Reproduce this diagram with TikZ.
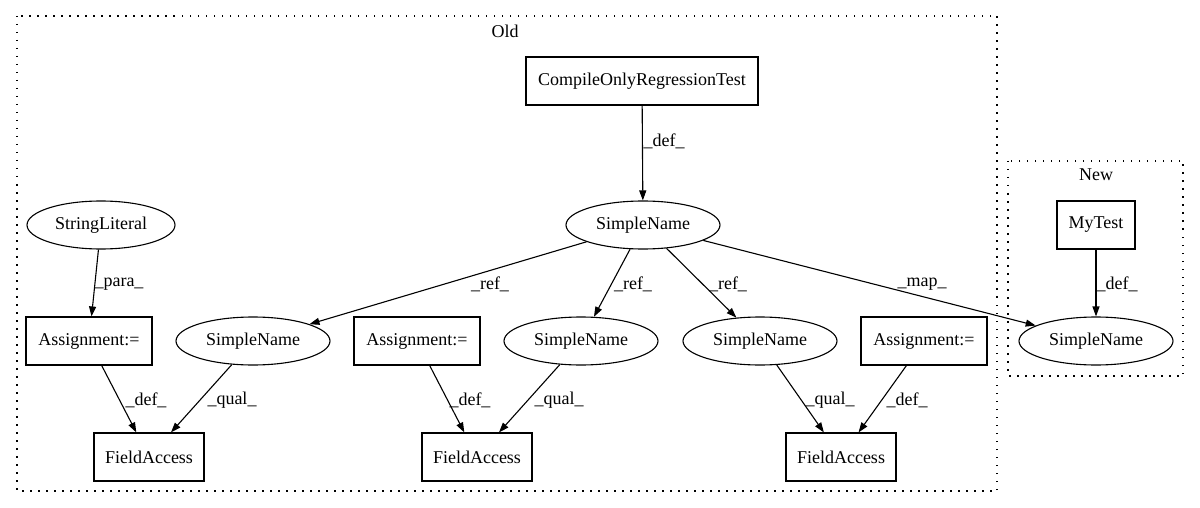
\documentclass[tikz,border=0pt]{standalone}
\usepackage{fontspec}
\setmainfont{Liberation Serif}
\usetikzlibrary{arrows.meta,shapes.geometric}
\tikzset{
  base/.style={draw, line width=1.1pt, inner sep=0pt, font=\fontsize{18}{21}\selectfont},
  boxnode/.style={base, rectangle, minimum height=48pt},
  ellnode/.style={base, ellipse, minimum width=154pt, minimum height=48pt},
  edge/.style={line width=1.1pt, -{Triangle[length=10pt,width=7pt]}},
  lbl/.style={inner sep=0pt, font=\fontsize{18}{21}\selectfont},
  cluster/.style={line width=1.3pt, dash pattern=on 1.5pt off 6.5pt},
}
\begin{document}
\begin{tikzpicture}[x=1pt,y=-1pt]
\useasboundingbox (0,0) rectangle (1200,508);
% clusters
\draw[cluster] (17,16) rectangle (997,491);
\node[lbl] (oldlbl) at (505,31) {Old};
\draw[cluster] (1008,161) rectangle (1183,376);
\node[lbl] (newlbl) at (1096,175) {New};
% nodes
\node[boxnode, minimum width=232pt] (cort) at (642,81) {CompileOnlyRegressionTest};
\node[ellnode] (sn0) at (643,225) {SimpleName};
\node[ellnode, minimum width=148pt] (sl) at (101,225) {StringLiteral};
\node[boxnode, minimum width=126pt] (as1) at (89,341) {Assignment:=};
\node[ellnode] (sn1) at (253,341) {SimpleName};
\node[boxnode, minimum width=126pt] (as2) at (417,341) {Assignment:=};
\node[ellnode] (sn2) at (581,341) {SimpleName};
\node[ellnode] (sn3) at (760,341) {SimpleName};
\node[boxnode, minimum width=126pt] (as3) at (924,341) {Assignment:=};
\node[boxnode, minimum width=110pt] (fa1) at (149,457) {FieldAccess};
\node[boxnode, minimum width=110pt] (fa2) at (477,457) {FieldAccess};
\node[boxnode, minimum width=110pt] (fa3) at (841,457) {FieldAccess};
\node[boxnode, minimum width=78pt] (mt) at (1096,225) {MyTest};
\node[ellnode] (snN) at (1096,341) {SimpleName};
% edges
\draw[edge] (cort) -- (sn0) node[lbl] at (664,141) {\_def\_};
\draw[edge] (sl) -- (as1) node[lbl] at (119,284) {\_para\_};
\draw[edge] (sn0) -- (sn1) node[lbl] at (490,284) {\_ref\_};
\draw[edge] (sn0) -- (sn2) node[lbl] at (633,284) {\_ref\_};
\draw[edge] (sn0) -- (sn3) node[lbl] at (728,284) {\_ref\_};
\draw[edge] (sn0) -- (snN) node[lbl] at (922,284) {\_map\_};
\draw[edge] (mt) -- (snN) node[lbl] at (1117,284) {\_def\_};
\draw[edge] (as1) -- (fa1) node[lbl] at (146,400) {\_def\_};
\draw[edge] (sn1) -- (fa1) node[lbl] at (232,400) {\_qual\_};
\draw[edge] (as2) -- (fa2) node[lbl] at (470,400) {\_def\_};
\draw[edge] (sn2) -- (fa2) node[lbl] at (559,400) {\_qual\_};
\draw[edge] (sn3) -- (fa3) node[lbl] at (830,400) {\_qual\_};
\draw[edge] (as3) -- (fa3) node[lbl] at (907,400) {\_def\_};
\end{tikzpicture}
\end{document}
